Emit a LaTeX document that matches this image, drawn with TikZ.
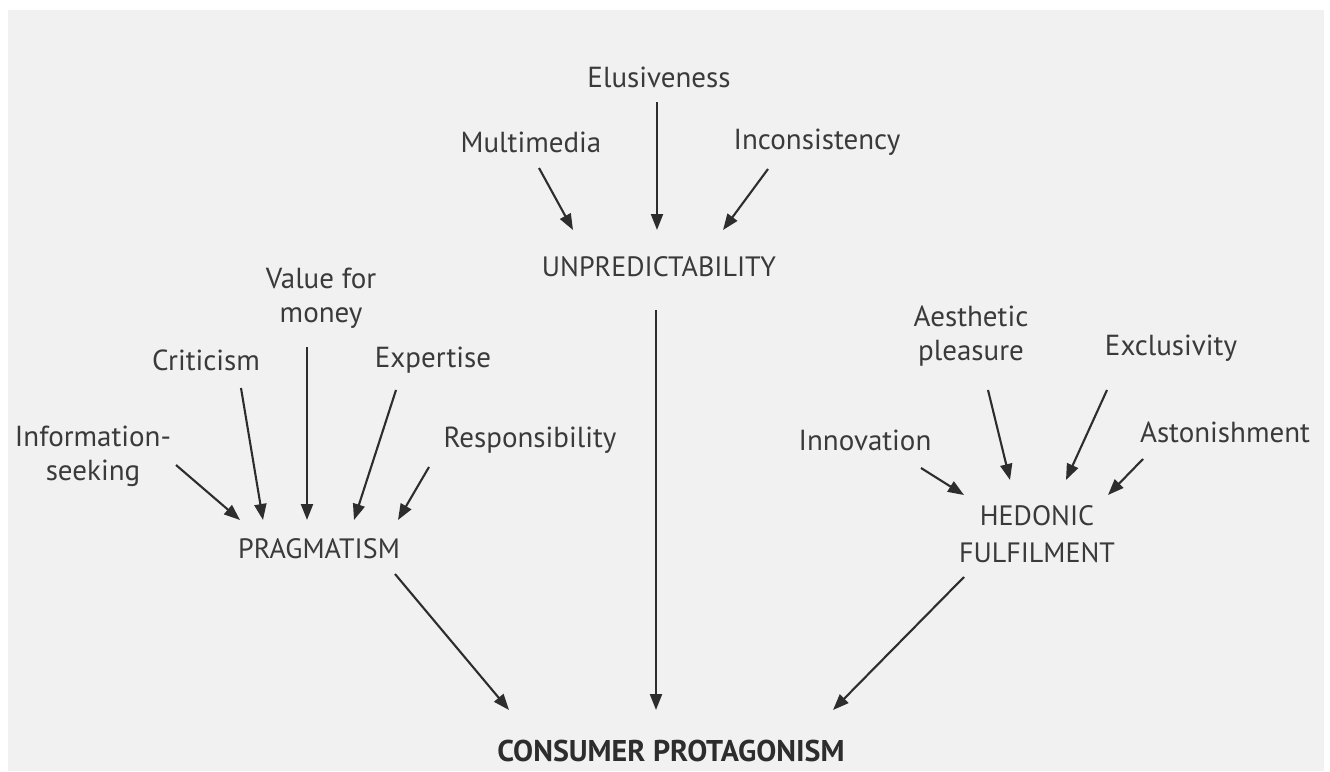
\documentclass[tikz,border=0pt]{standalone}
\usepackage{fontspec}
\setmainfont{PT Sans}
\usetikzlibrary{arrows.meta}
\definecolor{panel}{RGB}{240,241,240}
\definecolor{ink}{RGB}{58,58,58}
\definecolor{linecol}{RGB}{45,45,45}
\begin{document}
\begin{tikzpicture}[x=1pt,y=-1pt,
  lbl/.style={inner sep=0pt,text=ink,align=center,
    font=\fontsize{29}{34}\selectfont},
  head/.style={lbl,font=\fontsize{28}{37}\selectfont},
  final/.style={inner sep=0pt,text=linecol,font=\fontsize{30}{36}\selectfont\bfseries},
  arr/.style={draw=linecol,line width=2.1pt,
    -{Triangle[length=16pt,width=12pt]}}]
% page and panel
\useasboundingbox (0,0) rectangle (1330,771);
\fill[white] (0,0) rectangle (1330,771);
\fill[panel] (8,10) rectangle (1324,771);

% unpredictability cluster
\node[lbl] (elus) at (659,77) {Elusiveness};
\node[lbl] (multi) at (531,142) {Multimedia};
\node[lbl] (incon) at (817,142) {Inconsistency};
\node[head] (unpred) at (659,267) {UNPREDICTABILITY};

% pragmatism cluster
\node[lbl] (value) at (321,298) {Value for\\money};
\node[lbl] (crit) at (206,360) {Criticism};
\node[lbl] (expert) at (433,360) {Expertise};
\node[lbl] (info) at (93,456) {Information-\\seeking};
\node[lbl] (resp) at (530,440) {Responsibility};
\node[head] (prag) at (319,549) {PRAGMATISM};

% hedonic cluster
\node[lbl] (aest) at (971,336) {Aesthetic\\pleasure};
\node[lbl] (excl) at (1171,348) {Exclusivity};
\node[lbl] (innov) at (865,440) {Innovation};
\node[lbl] (aston) at (1225,432) {Astonishment};
\node[head] (hedon) at (1037,534) {HEDONIC\\FULFILMENT};

% outcome
\node[final] (cp) at (671,751) {CONSUMER PROTAGONISM};

% arrows into UNPREDICTABILITY
\draw[arr] ([shift={(-2,25)}]elus.center) -- ([shift={(-2,-37)}]unpred.center);
\draw[arr] ([shift={(8,26)}]multi.center) -- ([shift={(-86,-37)}]unpred.center);
\draw[arr] ([shift={(-49,27)}]incon.center) -- ([shift={(64,-37)}]unpred.center);

% arrows into PRAGMATISM
\draw[arr] ([shift={(83,9)}]info.center) -- ([shift={(-79,-29)}]prag.center);
\draw[arr] ([shift={(35,28)}]crit.center) -- ([shift={(-56,-29)}]prag.center);
\draw[arr] ([shift={(-14,49)}]value.center) -- ([shift={(-12,-29)}]prag.center);
\draw[arr] ([shift={(-37,30)}]expert.center) -- ([shift={(35,-29)}]prag.center);
\draw[arr] ([shift={(-101,27)}]resp.center) -- ([shift={(79,-29)}]prag.center);

% arrows into HEDONIC FULFILMENT
\draw[arr] ([shift={(56,28)}]innov.center) -- ([shift={(-73,-39)}]hedon.center);
\draw[arr] ([shift={(17,54)}]aest.center) -- ([shift={(-27,-54)}]hedon.center);
\draw[arr] ([shift={(-64,42)}]excl.center) -- ([shift={(29,-54)}]hedon.center);
\draw[arr] ([shift={(-82,27)}]aston.center) -- ([shift={(71,-39)}]hedon.center);

% arrows into CONSUMER PROTAGONISM
\draw[arr] ([shift={(-3,43)}]unpred.center) -- ([shift={(-15,-41)}]cp.center);
\draw[arr] ([shift={(76,25)}]prag.center) -- ([shift={(-162,-41)}]cp.center);
\draw[arr] ([shift={(-73,43)}]hedon.center) -- ([shift={(162,-41)}]cp.center);
\end{tikzpicture}
\end{document}
